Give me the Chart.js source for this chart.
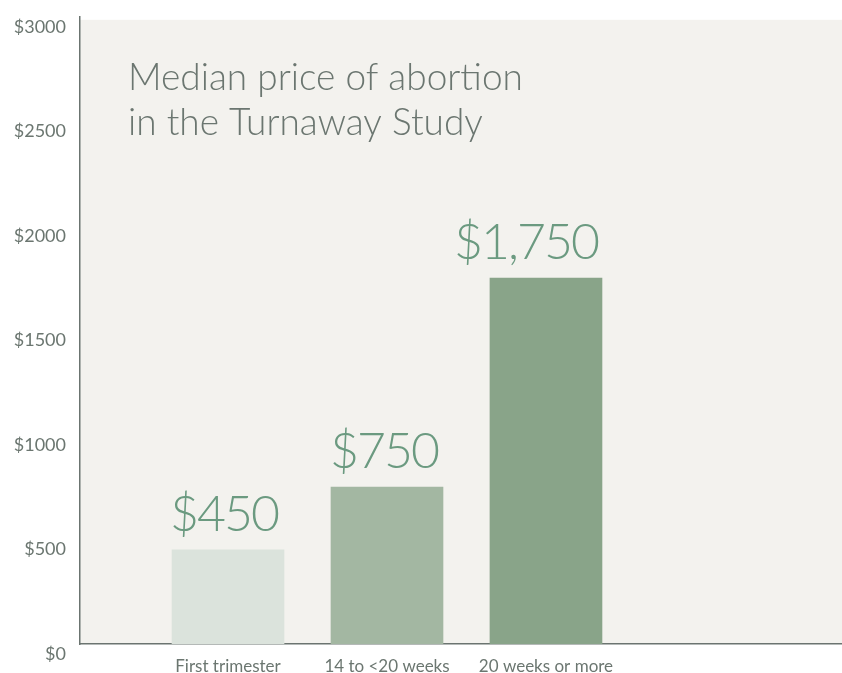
<!DOCTYPE html>
<html>
<head>
<meta charset="utf-8">
<script src="https://cdn.jsdelivr.net/npm/chart.js@4"></script>
<style>
  html, body { margin: 0; padding: 0; background: #ffffff; }
  #wrap { width: 842px; height: 673px; }
</style>
</head>
<body>
<div id="wrap"><canvas id="priceChart"></canvas></div>
<script>
const categories = ['First trimester', '14 to <20 weeks', '20 weeks or more']
const medianPrice = [450, 750, 1750]
const priceLabels = ['$450', '$750', '$1,750']
const barColors = ['#dbe3dc', '#a3b7a2', '#89a489']
const titleLines = ['Median price of abortion', 'in the Turnaway Study']

const textGray = '#6b7670'
const fontFamily = 'Lato, "Open Sans", sans-serif'

// light background only inside the plot area
const plotBackground = {
    id: 'plotBackground',
    beforeDraw: (chart) => {
        const { ctx, chartArea } = chart
        ctx.save()
        ctx.fillStyle = '#f3f2ee'
        ctx.fillRect(chartArea.left, chartArea.top + 3, chartArea.right - chartArea.left, chartArea.bottom - chartArea.top - 3)
        ctx.restore()
    }
}

// big value labels above the bars and the title text
const valueLabels = {
    id: 'valueLabels',
    afterDatasetsDraw: (chart) => {
        const { ctx, chartArea } = chart
        const shift = [-4, -3, -20] // the original sets the labels a bit left of centre
        ctx.save()
        ctx.fillStyle = '#6b9a80'
        ctx.font = '300 50px ' + fontFamily
        ctx.letterSpacing = '-2px'
        ctx.textAlign = 'center'
        ctx.textBaseline = 'alphabetic'
        chart.getDatasetMeta(0).data.forEach((bar, i) => {
            ctx.fillText(priceLabels[i], bar.x + shift[i], bar.y - 19)
        })

        ctx.letterSpacing = '0px'
        ctx.fillStyle = textGray
        ctx.font = '300 37px ' + fontFamily
        ctx.textAlign = 'left'
        titleLines.forEach((line, i) => {
            ctx.fillText(line, chartArea.left + 48, 90 + i * 45)
        })
        ctx.restore()
    }
}

const ctx = document.getElementById('priceChart').getContext('2d')

new Chart(ctx, {
    type: 'bar',
    data: {
        datasets: [{
            data: medianPrice.map((v, i) => ({ x: i + 1, y: v })),
            backgroundColor: barColors,
            barThickness: 112,
        }]
    },
    options: {
        responsive: true,
        maintainAspectRatio: false,
        animation: false,
        layout: { padding: { top: 0, right: 0, left: 0, bottom: 0 } },
        scales: {
            x: {
                type: 'linear',
                offset: false,
                min: 0.069,
                max: 4.862,
                grid: { display: false, offset: false },
                border: { display: true, color: '#6b7470', width: 1.5 },
                afterBuildTicks: (scale) => {
                    scale.ticks = categories.map((c, i) => ({ value: i + 1 }))
                },
                afterFit: (scale) => { scale.height = 29 },
                ticks: {
                    color: textGray,
                    padding: 4,
                    autoSkip: false,
                    maxRotation: 0,
                    font: { family: fontFamily, size: 17 },
                    callback: (v) => categories[v - 1] || ''
                }
            },
            y: {
                min: 0,
                max: 3000,
                grid: { display: false },
                border: { display: true, color: '#6b7470', width: 1.5 },
                afterFit: (scale) => { scale.width = 80 },
                ticks: {
                    stepSize: 500,
                    color: textGray,
                    padding: 6,
                    labelOffset: 10,
                    font: { family: fontFamily, size: 18 },
                    callback: (v) => '$' + v
                }
            }
        },
        plugins: {
            legend: { display: false },
            tooltip: { enabled: false }
        }
    },
    plugins: [plotBackground, valueLabels]
})
</script>
</body>
</html>
